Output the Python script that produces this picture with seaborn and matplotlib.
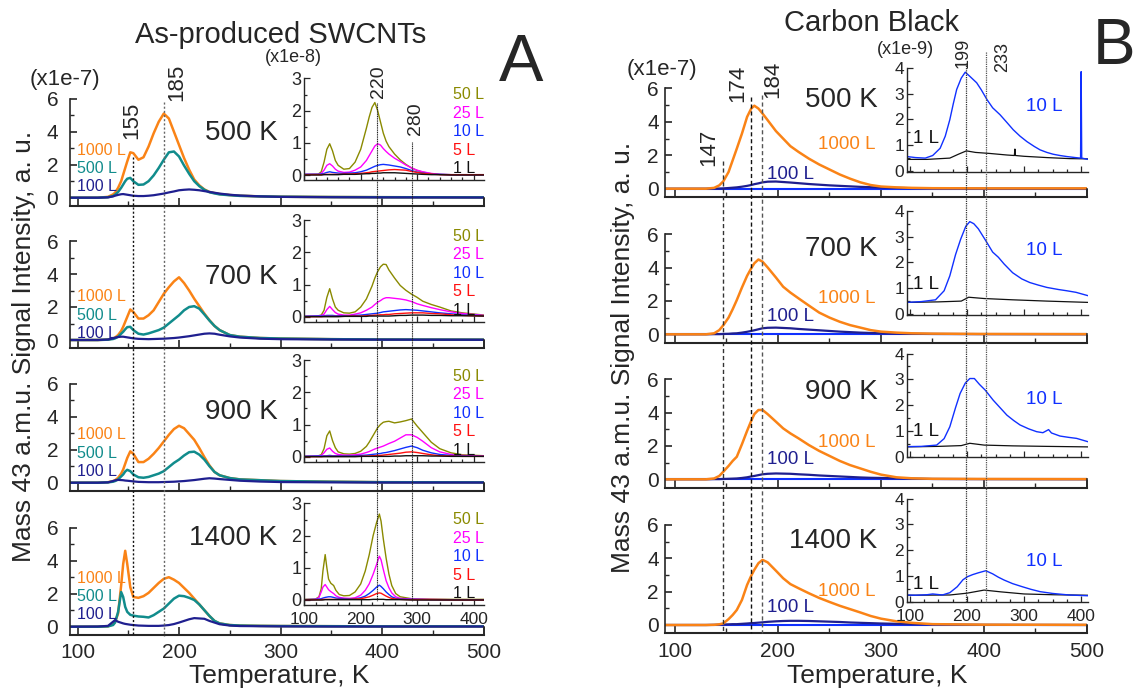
import matplotlib
matplotlib.use("Agg")
import matplotlib.pyplot as plt
import seaborn as sns
from matplotlib.lines import Line2D
from matplotlib.transforms import blended_transform_factory
from matplotlib.ticker import MultipleLocator

# ---------------------------------------------------------------- data
# Panel A (As-produced SWCNTs), main axes, units 1e-7
A_T = [93, 120, 130, 135, 137, 140, 143, 145, 147, 149, 152, 155, 160, 165, 170, 175, 180, 185,
       190, 195, 200, 205, 210, 215, 220, 225, 230, 235, 240, 250, 260, 280, 300, 350, 400, 500]
A500_1000L = [0, 0, 0.05, 0.2, 0.3, 0.6, 1.0, 1.4, 1.8, 2.2, 2.75, 2.7, 2.3, 2.45, 3.1, 3.9, 4.6, 5.1,
              4.8, 4.0, 3.2, 2.4, 1.7, 1.1, 0.75, 0.5, 0.35, 0.28, 0.22, 0.16, 0.12, 0.08, 0.06, 0.04, 0.03, 0.02]
A500_500L = [0, 0, 0.03, 0.1, 0.18, 0.35, 0.6, 0.8, 1.0, 1.15, 1.2, 1.0, 0.78, 0.8, 1.0, 1.35, 1.8, 2.3,
             2.75, 2.8, 2.5, 1.95, 1.45, 1.0, 0.7, 0.48, 0.33, 0.26, 0.2, 0.15, 0.11, 0.08, 0.06, 0.04, 0.03, 0.02]
A500_100L = [0, 0, 0.02, 0.08, 0.12, 0.17, 0.21, 0.22, 0.2, 0.18, 0.15, 0.12, 0.1, 0.1, 0.12, 0.15, 0.2, 0.25,
             0.32, 0.38, 0.45, 0.48, 0.5, 0.48, 0.45, 0.4, 0.35, 0.3, 0.25, 0.18, 0.13, 0.08, 0.05, 0.03, 0.02, 0.01]
A700_1000L = [0, 0, 0.03, 0.1, 0.15, 0.3, 0.55, 0.8, 1.1, 1.4, 1.85, 1.7, 1.3, 1.3, 1.5, 1.8, 2.3, 2.8,
              3.2, 3.55, 3.8, 3.45, 3.0, 2.5, 2.05, 1.6, 1.2, 0.85, 0.6, 0.3, 0.2, 0.12, 0.09, 0.05, 0.03, 0.02]
A700_500L = [0, 0, 0.02, 0.06, 0.1, 0.2, 0.38, 0.5, 0.65, 0.78, 0.8, 0.6, 0.38, 0.33, 0.4, 0.5, 0.6, 0.75,
             1.0, 1.25, 1.5, 1.8, 2.0, 2.05, 1.9, 1.55, 1.18, 0.85, 0.6, 0.3, 0.2, 0.12, 0.09, 0.05, 0.03, 0.02]
A700_100L = [0, 0, 0.03, 0.1, 0.14, 0.18, 0.2, 0.2, 0.18, 0.16, 0.13, 0.1, 0.07, 0.06, 0.05, 0.06, 0.07, 0.08,
             0.1, 0.12, 0.15, 0.19, 0.23, 0.28, 0.33, 0.38, 0.4, 0.38, 0.32, 0.22, 0.15, 0.08, 0.05, 0.03, 0.02, 0.01]
A900_1000L = [0, 0, 0.03, 0.1, 0.15, 0.3, 0.55, 0.8, 1.15, 1.5, 1.9, 1.75, 1.25, 1.25, 1.45, 1.75, 2.1, 2.5,
              2.9, 3.25, 3.45, 3.3, 2.95, 2.6, 2.1, 1.55, 1.05, 0.65, 0.45, 0.28, 0.2, 0.15, 0.1, 0.06, 0.03, 0.02]
A900_500L = [0, 0, 0.02, 0.06, 0.1, 0.2, 0.38, 0.5, 0.68, 0.78, 0.7, 0.5, 0.33, 0.3, 0.35, 0.45, 0.55, 0.7,
             0.95, 1.2, 1.4, 1.65, 1.85, 1.88, 1.7, 1.4, 1.0, 0.65, 0.45, 0.28, 0.2, 0.15, 0.1, 0.06, 0.03, 0.02]
A900_100L = [0, 0, 0.02, 0.1, 0.14, 0.17, 0.16, 0.15, 0.13, 0.12, 0.1, 0.08, 0.05, 0.04, 0.03, 0.03, 0.03, 0.04,
             0.05, 0.06, 0.08, 0.1, 0.13, 0.16, 0.2, 0.24, 0.27, 0.25, 0.22, 0.17, 0.12, 0.07, 0.04, 0.02, 0.01, 0.01]
A1400_1000L = [0, 0, 0.02, 0.15, 0.3, 0.8, 2.5, 3.8, 4.6, 3.8, 2.4, 1.8, 1.75, 1.85, 2.05, 2.35, 2.65, 2.9,
               3.0, 2.85, 2.65, 2.35, 2.05, 1.7, 1.35, 1.0, 0.65, 0.35, 0.2, 0.1, 0.07, 0.05, 0.04, 0.03, 0.02, 0.02]
A1400_500L = [0, 0, 0.02, 0.1, 0.25, 0.9, 2.1, 1.8, 1.2, 0.9, 0.72, 0.67, 0.62, 0.6, 0.56, 0.7, 0.9, 1.1,
              1.4, 1.7, 1.88, 1.85, 1.75, 1.62, 1.35, 1.0, 0.65, 0.35, 0.2, 0.1, 0.07, 0.05, 0.04, 0.03, 0.02, 0.02]
A1400_100L = [0, 0.01, 0.05, 0.3, 0.4, 0.3, 0.24, 0.2, 0.17, 0.15, 0.12, 0.1, 0.07, 0.06, 0.05, 0.05, 0.05, 0.07,
              0.1, 0.16, 0.25, 0.35, 0.45, 0.52, 0.5, 0.48, 0.35, 0.25, 0.15, 0.07, 0.04, 0.03, 0.02, 0.01, 0.01, 0.01]

# Panel A insets, units 1e-8
AI_T = [100, 125, 130, 135, 140, 145, 150, 155, 160, 170, 180, 190, 200, 210, 215, 220, 225, 230, 235,
        240, 245, 250, 260, 270, 280, 290, 300, 310, 325, 340, 360, 380, 419]
AI500_50L = [0.02, 0.03, 0.1, 0.4, 0.8, 0.97, 0.75, 0.45, 0.3, 0.18, 0.2, 0.4, 0.8, 1.45, 1.8, 2.1, 2.25, 2.0, 1.65,
             1.3, 1.05, 0.88, 0.65, 0.47, 0.33, 0.22, 0.14, 0.09, 0.04, 0.02, 0.01, 0.01, 0.01]
AI500_25L = [0.02, 0.02, 0.05, 0.15, 0.3, 0.35, 0.28, 0.18, 0.12, 0.08, 0.09, 0.15, 0.25, 0.45, 0.6, 0.75, 0.9, 0.97, 0.93,
             0.82, 0.73, 0.65, 0.52, 0.42, 0.31, 0.22, 0.15, 0.1, 0.05, 0.02, 0.01, 0.01, 0.01]
AI500_10L = [0.02, 0.02, 0.03, 0.05, 0.08, 0.1, 0.08, 0.07, 0.06, 0.05, 0.06, 0.07, 0.1, 0.15, 0.19, 0.23, 0.27, 0.3, 0.32,
             0.33, 0.32, 0.31, 0.28, 0.25, 0.2, 0.14, 0.09, 0.06, 0.03, 0.02, 0.01, 0.01, 0.01]
AI500_5L = [0.01, 0.01, 0.01, 0.02, 0.02, 0.02, 0.02, 0.02, 0.02, 0.03, 0.03, 0.04, 0.05, 0.07, 0.08, 0.1, 0.11, 0.12, 0.13,
            0.14, 0.15, 0.16, 0.17, 0.16, 0.15, 0.11, 0.08, 0.05, 0.03, 0.01, 0.01, 0.01, 0.01]
AI500_1L = [0, 0, 0, 0.01, 0.01, 0.01, 0.01, 0.01, 0.01, 0.02, 0.02, 0.02, 0.03, 0.04, 0.04, 0.05, 0.05, 0.06, 0.06,
            0.07, 0.07, 0.07, 0.07, 0.06, 0.05, 0.04, 0.03, 0.02, 0.01, 0.01, 0, 0, 0]
AI700_50L = [0.02, 0.03, 0.05, 0.2, 0.6, 0.87, 0.55, 0.3, 0.2, 0.12, 0.11, 0.15, 0.3, 0.55, 0.75, 0.95, 1.2, 1.4, 1.55,
             1.63, 1.62, 1.45, 1.2, 0.97, 0.82, 0.7, 0.6, 0.48, 0.38, 0.3, 0.18, 0.12, 0.05]
AI700_25L = [0.01, 0.02, 0.04, 0.08, 0.22, 0.32, 0.22, 0.13, 0.08, 0.05, 0.05, 0.08, 0.12, 0.2, 0.25, 0.3, 0.38, 0.45, 0.5,
             0.56, 0.59, 0.59, 0.57, 0.55, 0.52, 0.47, 0.4, 0.35, 0.28, 0.22, 0.15, 0.1, 0.04]
AI700_10L = [0.01, 0.02, 0.02, 0.03, 0.04, 0.04, 0.04, 0.03, 0.03, 0.03, 0.03, 0.04, 0.05, 0.07, 0.08, 0.09, 0.1, 0.11, 0.13,
             0.15, 0.16, 0.17, 0.19, 0.21, 0.22, 0.21, 0.2, 0.18, 0.15, 0.12, 0.09, 0.06, 0.03]
AI700_5L = [0, 0, 0, 0.01, 0.01, 0.01, 0.01, 0.01, 0.01, 0.01, 0.02, 0.02, 0.02, 0.03, 0.04, 0.04, 0.05, 0.05, 0.06,
            0.06, 0.07, 0.07, 0.09, 0.1, 0.11, 0.12, 0.12, 0.12, 0.1, 0.09, 0.06, 0.04, 0.02]
AI700_1L = [0, 0, 0, 0, 0, 0, 0, 0, 0, 0.01, 0.01, 0.01, 0.01, 0.01, 0.02, 0.02, 0.02, 0.02, 0.02,
            0.02, 0.02, 0.02, 0.03, 0.04, 0.04, 0.05, 0.05, 0.05, 0.04, 0.04, 0.03, 0.03, 0.02]
AI900_50L = [0.02, 0.03, 0.06, 0.25, 0.65, 0.8, 0.5, 0.28, 0.15, 0.09, 0.08, 0.1, 0.17, 0.32, 0.45, 0.6, 0.75, 0.9, 1.0,
             1.07, 1.09, 1.1, 1.05, 1.08, 1.12, 1.17, 0.95, 0.75, 0.45, 0.25, 0.12, 0.06, 0.03]
AI900_25L = [0.01, 0.02, 0.04, 0.12, 0.23, 0.27, 0.17, 0.1, 0.07, 0.05, 0.05, 0.06, 0.08, 0.13, 0.16, 0.2, 0.24, 0.27, 0.3,
             0.33, 0.37, 0.41, 0.48, 0.58, 0.68, 0.68, 0.6, 0.48, 0.28, 0.15, 0.07, 0.04, 0.02]
AI900_10L = [0.01, 0.02, 0.02, 0.03, 0.03, 0.04, 0.03, 0.03, 0.03, 0.03, 0.03, 0.03, 0.04, 0.05, 0.06, 0.07, 0.08, 0.09, 0.1,
             0.12, 0.13, 0.15, 0.19, 0.24, 0.29, 0.33, 0.28, 0.2, 0.12, 0.07, 0.04, 0.02, 0.01]
AI900_5L = [0, 0, 0, 0.01, 0.01, 0.01, 0.01, 0.01, 0.01, 0.01, 0.01, 0.01, 0.01, 0.02, 0.02, 0.03, 0.03, 0.04, 0.04,
            0.05, 0.06, 0.07, 0.09, 0.11, 0.14, 0.15, 0.13, 0.1, 0.06, 0.03, 0.02, 0.01, 0.01]
AI900_1L = [0, 0, 0, 0, 0, 0, 0, 0, 0, 0, 0, 0, 0.01, 0.01, 0.01, 0.01, 0.01, 0.01, 0.01,
            0.01, 0.01, 0.01, 0.02, 0.02, 0.03, 0.03, 0.03, 0.03, 0.02, 0.02, 0.01, 0.01, 0.01]
AI4_T = [100, 120, 126, 130, 133, 137, 140, 143, 147, 152, 156, 162, 170, 180, 190, 200, 208, 215, 222,
         228, 233, 236, 240, 245, 250, 255, 262, 270, 290, 320, 360, 419]
AI1400_50L = [0.02, 0.03, 0.1, 0.35, 0.9, 1.41, 1.0, 0.65, 0.52, 0.45, 0.3, 0.17, 0.13, 0.14, 0.25, 0.5, 0.9, 1.4, 2.0,
              2.4, 2.67, 2.45, 1.9, 1.3, 0.8, 0.45, 0.2, 0.1, 0.04, 0.03, 0.02, 0.02]
AI1400_25L = [0.01, 0.02, 0.08, 0.25, 0.4, 0.48, 0.4, 0.32, 0.26, 0.2, 0.13, 0.08, 0.06, 0.05, 0.07, 0.15, 0.3, 0.5, 0.8,
              1.1, 1.36, 1.25, 0.95, 0.6, 0.38, 0.22, 0.1, 0.05, 0.03, 0.02, 0.01, 0.01]
AI1400_10L = [0.01, 0.02, 0.03, 0.04, 0.06, 0.08, 0.09, 0.1, 0.1, 0.08, 0.06, 0.05, 0.04, 0.03, 0.04, 0.07, 0.12, 0.2, 0.3,
              0.4, 0.46, 0.42, 0.35, 0.25, 0.17, 0.1, 0.05, 0.03, 0.02, 0.01, 0.01, 0.01]
AI1400_5L = [0, 0.01, 0.01, 0.01, 0.02, 0.02, 0.02, 0.02, 0.02, 0.02, 0.02, 0.02, 0.02, 0.02, 0.03, 0.04, 0.07, 0.1, 0.15,
             0.2, 0.22, 0.21, 0.17, 0.12, 0.08, 0.05, 0.03, 0.02, 0.01, 0.01, 0, 0]
AI1400_1L = [0, 0, 0, 0, 0, 0.01, 0.01, 0.01, 0.01, 0.01, 0.01, 0.01, 0.01, 0.01, 0.01, 0.01, 0.01, 0.01, 0.02,
             0.02, 0.02, 0.02, 0.02, 0.01, 0.01, 0.01, 0.01, 0.01, 0, 0, 0, 0]

# Panel B (Carbon Black), main axes, units 1e-7
B_T = [90, 130, 138, 143, 147, 152, 156, 160, 165, 170, 174, 177, 181, 185, 190, 198, 205, 212, 220,
       230, 240, 250, 260, 270, 280, 290, 300, 315, 330, 350, 400, 500]
B500_1000L = [0, 0, 0.05, 0.2, 0.45, 1.0, 1.7, 2.4, 3.3, 4.3, 4.8, 4.97, 4.8, 4.5, 4.1, 3.45, 3.0, 2.55, 2.2,
              1.8, 1.45, 1.15, 0.85, 0.6, 0.38, 0.22, 0.13, 0.08, 0.05, 0.03, 0.02, 0.02]
B500_100L = [0, 0, 0.01, 0.01, 0.02, 0.04, 0.06, 0.08, 0.12, 0.17, 0.22, 0.27, 0.32, 0.38, 0.42, 0.43, 0.4, 0.37, 0.33,
             0.28, 0.24, 0.2, 0.17, 0.14, 0.11, 0.09, 0.07, 0.05, 0.03, 0.02, 0.01, 0]
B700_1000L = [0, 0, 0.06, 0.25, 0.55, 1.0, 1.5, 2.05, 2.8, 3.5, 3.95, 4.25, 4.48, 4.35, 4.0, 3.4, 2.85, 2.5, 2.15,
              1.72, 1.3, 1.0, 0.75, 0.55, 0.4, 0.25, 0.16, 0.1, 0.06, 0.04, 0.02, 0.01]
B700_100L = [0, 0, 0.01, 0.01, 0.02, 0.03, 0.05, 0.06, 0.1, 0.15, 0.2, 0.24, 0.3, 0.36, 0.39, 0.4, 0.38, 0.36, 0.32,
             0.28, 0.24, 0.2, 0.16, 0.13, 0.1, 0.08, 0.06, 0.04, 0.03, 0.02, 0.01, 0]
B900_1000L = [0, 0, 0.05, 0.2, 0.46, 0.8, 1.1, 1.35, 2.1, 2.9, 3.5, 3.9, 4.15, 4.15, 3.9, 3.45, 3.05, 2.75, 2.45,
              2.05, 1.7, 1.4, 1.1, 0.85, 0.65, 0.45, 0.28, 0.12, 0.06, 0.03, 0.02, 0.01]
B900_100L = [0, 0, 0.01, 0.01, 0.02, 0.03, 0.04, 0.05, 0.08, 0.12, 0.17, 0.2, 0.25, 0.3, 0.33, 0.35, 0.34, 0.33, 0.3,
             0.27, 0.23, 0.2, 0.17, 0.14, 0.11, 0.09, 0.08, 0.06, 0.04, 0.02, 0.01, 0]
B1400_1000L = [0, 0, 0.01, 0.04, 0.1, 0.35, 0.6, 0.9, 1.5, 2.4, 2.95, 3.3, 3.7, 3.9, 3.75, 3.25, 2.8, 2.45, 2.2,
               1.9, 1.62, 1.38, 1.15, 0.95, 0.75, 0.54, 0.38, 0.22, 0.13, 0.05, 0.02, 0.01]
B1400_100L = [0, 0, 0.01, 0.02, 0.03, 0.04, 0.05, 0.05, 0.07, 0.09, 0.11, 0.12, 0.14, 0.16, 0.19, 0.22, 0.24, 0.25, 0.25,
              0.24, 0.22, 0.2, 0.18, 0.15, 0.13, 0.11, 0.09, 0.07, 0.05, 0.03, 0.01, 0]
B_10L_MAIN = [0] * len(B_T)  # the 10 L trace stays on the baseline at this scale

# Panel B insets, units 1e-9
BI500_T10 = [95, 110, 127, 140, 153, 162, 170, 176, 182, 190, 197, 205, 217, 225, 235, 245, 258, 270, 281, 293,
             305, 318, 328, 340, 351, 363, 375, 390, 399, 400, 401, 412]
BI500_10L = [0.56, 0.52, 0.5, 0.6, 0.88, 1.35, 1.99, 2.6, 3.16, 3.6, 3.83, 3.67, 3.42, 3.15, 2.77, 2.45, 2.18, 1.88, 1.6, 1.35,
             1.14, 0.95, 0.82, 0.72, 0.65, 0.6, 0.56, 0.52, 0.5, 3.85, 0.5, 0.45]
BI500_T1 = [95, 130, 170, 185, 199, 215, 240, 270, 283, 284, 285, 300, 340, 380, 412]
BI500_1L = [0.45, 0.45, 0.5, 0.65, 0.78, 0.72, 0.68, 0.62, 0.6, 0.85, 0.6, 0.57, 0.52, 0.48, 0.47]
BI700_T10 = [95, 120, 145, 160, 170, 180, 189, 198, 205, 212, 220, 233, 245, 255, 265, 280, 296, 310, 325, 340,
             360, 375, 391, 412]
BI700_10L = [0.45, 0.48, 0.55, 0.9, 1.48, 2.3, 2.9, 3.4, 3.58, 3.5, 3.3, 2.84, 2.4, 2.2, 1.94, 1.6, 1.36, 1.22, 1.12, 1.03,
             0.95, 0.9, 0.84, 0.71]
BI700_T1 = [95, 150, 190, 203, 230, 280, 340, 412]
BI700_1L = [0.45, 0.47, 0.5, 0.65, 0.6, 0.55, 0.5, 0.45]
BI900_T10 = [95, 120, 147, 160, 170, 180, 188, 197, 205, 213, 222, 232, 246, 258, 270, 282, 293, 308, 322, 333,
             343, 348, 363, 378, 392, 412]
BI900_10L = [0.39, 0.4, 0.45, 0.7, 1.16, 1.9, 2.45, 2.85, 3.03, 3.03, 2.8, 2.58, 2.19, 1.9, 1.61, 1.4, 1.23, 1.08, 0.97, 0.93,
             1.05, 0.92, 0.8, 0.75, 0.71, 0.58]
BI900_T1 = [95, 150, 190, 205, 230, 280, 340, 412]
BI900_1L = [0.38, 0.4, 0.43, 0.52, 0.45, 0.42, 0.4, 0.38]
BI1400_T10 = [95, 110, 130, 140, 157, 170, 183, 193, 201, 210, 220, 233, 245, 255, 265, 280, 297, 312, 328, 350,
              379, 412]
BI1400_10L = [0.26, 0.25, 0.27, 0.3, 0.26, 0.35, 0.58, 0.85, 0.97, 1.05, 1.12, 1.2, 1.08, 0.95, 0.84, 0.7, 0.58, 0.48, 0.39, 0.32,
              0.26, 0.23]
BI1400_T1 = [95, 170, 200, 230, 260, 300, 350, 412]
BI1400_1L = [0.25, 0.26, 0.33, 0.45, 0.38, 0.3, 0.27, 0.25]

# labels
ANNEAL = ["500 K", "700 K", "900 K", "1400 K"]
A_DOSES = ["1000 L", "500 L", "100 L"]
AI_DOSES = ["50 L", "25 L", "10 L", "5 L", "1 L"]
B_DOSES = ["1000 L", "100 L"]
BI_DOSES = ["10 L", "1 L"]
A_MAIN_PEAKS = [155, 185]
A_INSET_PEAKS = [228, 290]          # positions of the marked lines in the inset scale
A_INSET_PEAK_LABELS = ["220", "280"]
B_MAIN_PEAKS = [147, 174, 184]
B_INSET_PEAKS = [199, 233]

# ---------------------------------------------------------------- style
sns.set_theme(style="ticks")
plt.rcParams["font.family"] = ["Liberation Sans", "DejaVu Sans"]
plt.rcParams["axes.linewidth"] = 1.2

W, H = 1137, 688
fig = plt.figure(figsize=(W / 100, H / 100), dpi=100)


def rect(left, right, top, bottom):
    return [left / W, 1 - bottom / H, (right - left) / W, (bottom - top) / H]


C_OR, C_TEAL, C_NAVY = "#FA8316", "#118C8C", "#1F1F8F"
C_OLIVE, C_MAG, C_BLUE, C_RED, C_BLK = "#8A8A00", "#FF00FF", "#1030FF", "#FF1010", "#111111"


def line(ax, x, y, color, lw):
    sns.lineplot(x=x, y=y, ax=ax, color=color, linewidth=lw, estimator=None, legend=False)


def style_main(ax, xlim, bottom_labels, ypad):
    ax.set_xlim(*xlim)
    ax.set_ylim(-0.5, 6.3)
    ax.set_facecolor("none")
    ax.xaxis.set_major_locator(MultipleLocator(100))
    ax.xaxis.set_minor_locator(MultipleLocator(50))
    ax.yaxis.set_major_locator(MultipleLocator(2))
    ax.yaxis.set_minor_locator(MultipleLocator(1))
    ax.tick_params(which="both", direction="in", top=False, right=False)
    ax.tick_params(axis="x", which="major", length=6, width=1.2, labelsize=15, pad=6)
    ax.tick_params(axis="x", which="minor", length=3.5, width=1.0)
    ax.tick_params(axis="y", which="major", length=5, width=1.2, labelsize=15, pad=ypad)
    ax.tick_params(axis="y", which="minor", length=3, width=1.0)
    ax.tick_params(labelbottom=bottom_labels)
    ax.spines["top"].set_visible(False)
    ax.spines["left"].set_bounds(-0.5, 6)
    ax.spines["right"].set_bounds(-0.5, 0)
    ax.spines["bottom"].set_linewidth(1.5)
    ax.set_xlabel("")
    ax.set_ylabel("")


def style_inset(ax, xlim, ylim, ytop, xminor, bottom_labels, xls, yls):
    ax.set_xlim(*xlim)
    ax.set_ylim(*ylim)
    ax.set_facecolor("none")
    ax.xaxis.set_major_locator(MultipleLocator(100))
    ax.xaxis.set_minor_locator(MultipleLocator(xminor))
    ax.yaxis.set_major_locator(MultipleLocator(1))
    ax.yaxis.set_minor_locator(MultipleLocator(0.5))
    ax.tick_params(which="both", direction="in", top=False, right=False, width=0.9)
    ax.tick_params(which="major", length=4)
    ax.tick_params(which="minor", length=2.5)
    ax.tick_params(axis="x", labelsize=xls, pad=5)
    ax.tick_params(axis="y", labelsize=yls, pad=2)
    ax.tick_params(labelbottom=bottom_labels)
    ax.spines["top"].set_visible(False)
    ax.spines["right"].set_visible(False)
    ax.spines["left"].set_bounds(ylim[0], ytop)
    ax.spines["left"].set_linewidth(1.0)
    ax.spines["bottom"].set_linewidth(1.0)
    ax.set_xlabel("")
    ax.set_ylabel("")


# ---------------------------------------------------------------- panel A
A_main_series = [
    (A500_1000L, A500_500L, A500_100L),
    (A700_1000L, A700_500L, A700_100L),
    (A900_1000L, A900_500L, A900_100L),
    (A1400_1000L, A1400_500L, A1400_100L),
]
A_ins_series = [
    (AI_T, (AI500_50L, AI500_25L, AI500_10L, AI500_5L, AI500_1L)),
    (AI_T, (AI700_50L, AI700_25L, AI700_10L, AI700_5L, AI700_1L)),
    (AI_T, (AI900_50L, AI900_25L, AI900_10L, AI900_5L, AI900_1L)),
    (AI4_T, (AI1400_50L, AI1400_25L, AI1400_10L, AI1400_5L, AI1400_1L)),
]
A_zero = [197.7, 340.0, 482.7, 626.7]
A_unit = 16.5
A_temp_y = [3.9, 3.8, 4.3, 5.4]
A_lab_y = [(2.85, 1.78, 0.67), (2.62, 1.5, 0.42), (2.9, 1.78, 0.67), (2.93, 1.82, 0.71)]
AI_zero = [175.0, 316.7, 456.7, 600.0]
AI_unit = 32.2
A_axes, A_insets = [], []
for k in range(4):
    z = A_zero[k]
    ax = fig.add_axes(rect(70, 483.5, z - 6.3 * A_unit, z + 0.5 * A_unit))
    o, t, n = A_main_series[k]
    line(ax, A_T, o, C_OR, 1.8)
    line(ax, A_T, t, C_TEAL, 1.8)
    line(ax, A_T, n, C_NAVY, 1.6)
    style_main(ax, (92.6, 500), k == 3, 8.5)
    ax.text(297, A_temp_y[k], ANNEAL[k], ha="right", va="center", fontsize=20)
    for lab, yv, c in zip(A_DOSES, A_lab_y[k], (C_OR, C_TEAL, C_NAVY)):
        ax.text(99.5, yv, lab, ha="left", va="center", fontsize=11.5, color=c)
    A_axes.append(ax)

    zi = AI_zero[k]
    axi = fig.add_axes(rect(304.3, 484.3, zi - 3.05 * AI_unit, zi + 0.16 * AI_unit))
    Ti, ser = A_ins_series[k]
    for vals, c in zip(ser, (C_OLIVE, C_MAG, C_BLUE, C_RED, C_BLK)):
        line(axi, Ti, vals, c, 1.0)
    style_inset(axi, (100, 419), (-0.16, 3.05), 3, 20, k == 3, 12.5, 13)
    for j, (lab, c) in enumerate(zip(AI_DOSES, (C_OLIVE, C_MAG, C_BLUE, C_RED, C_BLK))):
        axi.text(364, 2.5 - 0.575 * j, lab, ha="left", va="center", fontsize=11.5, color=c)
    A_insets.append(axi)

# ---------------------------------------------------------------- panel B
B_main_series = [
    (B500_1000L, B500_100L),
    (B700_1000L, B700_100L),
    (B900_1000L, B900_100L),
    (B1400_1000L, B1400_100L),
]
B_ins_series = [
    (BI500_T10, BI500_10L, BI500_T1, BI500_1L),
    (BI700_T10, BI700_10L, BI700_T1, BI700_1L),
    (BI900_T10, BI900_10L, BI900_T1, BI900_1L),
    (BI1400_T10, BI1400_10L, BI1400_T1, BI1400_1L),
]
B_zero = [188.7, 334.3, 479.3, 625.0]
B_unit = 16.7
B_temp_y = [5.3, 5.1, 5.2, 5.0]
B_lab_y = [(2.63, 0.84), (2.14, 1.05), (2.18, 1.2), (2.0, 1.06)]
BI_zero = [171.0, 314.0, 456.7, 601.7]
BI_unit = 25.8
BI_lab_y = [(2.5, 1.27), (2.45, 1.16), (2.2, 0.97), (1.55, 0.67)]
B_axes, B_insets = [], []
for k in range(4):
    z = B_zero[k]
    ax = fig.add_axes(rect(665, 1087, z - 6.3 * B_unit, z + 0.5 * B_unit))
    o, n = B_main_series[k]
    line(ax, B_T, B_10L_MAIN, C_BLUE, 1.5)
    line(ax, B_T, n, C_NAVY, 1.6)
    line(ax, B_T, o, C_OR, 1.8)
    style_main(ax, (90.3, 500), k == 3, 4.5)
    ax.text(296.5, B_temp_y[k], ANNEAL[k], ha="right", va="center", fontsize=20)
    ax.text(238.8, B_lab_y[k][0], B_DOSES[0], ha="left", va="center", fontsize=13.5, color=C_OR)
    ax.text(189.5, B_lab_y[k][1], B_DOSES[1], ha="left", va="center", fontsize=13.5, color=C_NAVY)
    B_axes.append(ax)

    zi = BI_zero[k]
    axi = fig.add_axes(rect(907, 1088, zi - 4.05 * BI_unit, zi + 0.03 * BI_unit))
    t10, v10, t1, v1 = B_ins_series[k]
    line(axi, t1, v1, C_BLK, 0.9)
    line(axi, t10, v10, C_BLUE, 1.0)
    style_inset(axi, (95, 412), (-0.03, 4.05), 4, 25, k == 3, 12.5, 12.5)
    axi.text(303, BI_lab_y[k][0], BI_DOSES[0], ha="left", va="center", fontsize=13.5, color=C_BLUE)
    axi.text(106, BI_lab_y[k][1], BI_DOSES[1], ha="left", va="center", fontsize=13.5, color=C_BLK)
    B_insets.append(axi)


# ---------------------------------------------------------------- reference lines
def vline(ax, xval, top_px, bottom_px, **kw):
    tr = blended_transform_factory(ax.transData, fig.transFigure)
    fig.add_artist(Line2D([xval, xval], [1 - top_px / H, 1 - bottom_px / H], transform=tr,
                          clip_on=False, zorder=5, **kw))


vline(A_axes[0], A_MAIN_PEAKS[0], 157, 636, color="#111111", lw=1.0, ls=(0, (1.5, 1.5)))
vline(A_axes[0], A_MAIN_PEAKS[1], 102, 636, color="#666666", lw=1.0, ls=(0, (1.5, 1.5)))
vline(A_insets[0], A_INSET_PEAKS[0], 103, 601, color="#222222", lw=0.8, ls=(0, (1, 0.6)))
vline(A_insets[0], A_INSET_PEAKS[1], 142, 601, color="#222222", lw=0.8, ls=(0, (1, 0.6)))
vline(B_axes[0], B_MAIN_PEAKS[0], 161, 633, color="#333333", lw=1.0, ls=(0, (3, 2)))
vline(B_axes[0], B_MAIN_PEAKS[1], 97, 633, color="#111111", lw=1.0, ls=(0, (3, 2)))
vline(B_axes[0], B_MAIN_PEAKS[2], 95, 633, color="#555555", lw=1.0, ls=(0, (3, 2)))
vline(B_insets[0], B_INSET_PEAKS[0], 63, 602, color="#333333", lw=0.9, ls=(0, (1, 0.8)))
vline(B_insets[0], B_INSET_PEAKS[1], 52, 602, color="#555555", lw=0.9, ls=(0, (1, 0.8)))


def ftext(xp, yp, s, **kw):
    fig.text(xp / W, 1 - yp / H, s, **kw)


# peak labels
ftext(131.7, 120, str(A_MAIN_PEAKS[0]), rotation=90, ha="center", va="center", fontsize=16)
ftext(176.5, 82, str(A_MAIN_PEAKS[1]), rotation=90, ha="center", va="center", fontsize=16)
ftext(378.3, 82, A_INSET_PEAK_LABELS[0], rotation=90, ha="center", va="center", fontsize=14)
ftext(415.8, 118.3, A_INSET_PEAK_LABELS[1], rotation=90, ha="center", va="center", fontsize=14)
ftext(709, 147, str(B_MAIN_PEAKS[0]), rotation=90, ha="center", va="center", fontsize=16)
ftext(738, 83, str(B_MAIN_PEAKS[1]), rotation=90, ha="center", va="center", fontsize=16)
ftext(772.6, 79, str(B_MAIN_PEAKS[2]), rotation=90, ha="center", va="center", fontsize=16)
ftext(963, 53, str(B_INSET_PEAKS[0]), rotation=90, ha="center", va="center", fontsize=13)
ftext(1003, 57, str(B_INSET_PEAKS[1]), rotation=90, ha="center", va="center", fontsize=13)

# titles, multipliers, letters, axis labels
ftext(281, 35, "As-produced SWCNTs", ha="center", va="center", fontsize=21)
ftext(872, 23, "Carbon Black", ha="center", va="center", fontsize=21)
ftext(521, 64, "A", ha="center", va="center", fontsize=48)
ftext(1114, 47, "B", ha="center", va="center", fontsize=46)
ftext(65, 79, "(x1e-7)", ha="center", va="center", fontsize=16)
ftext(293, 58, "(x1e-8)", ha="center", va="center", fontsize=13)
ftext(662, 70, "(x1e-7)", ha="center", va="center", fontsize=16)
ftext(905, 49, "(x1e-9)", ha="center", va="center", fontsize=13)
ylab = "Mass 43 a.m.u. Signal Intensity, a. u."
ftext(24, 346, ylab, rotation=90, ha="center", va="center", fontsize=19)
ftext(623, 357, ylab, rotation=90, ha="center", va="center", fontsize=19)
ftext(279, 676, "Temperature, K", ha="center", va="center", fontsize=19)
ftext(877, 676, "Temperature, K", ha="center", va="center", fontsize=19)

fig.savefig("out.png", dpi=100)
